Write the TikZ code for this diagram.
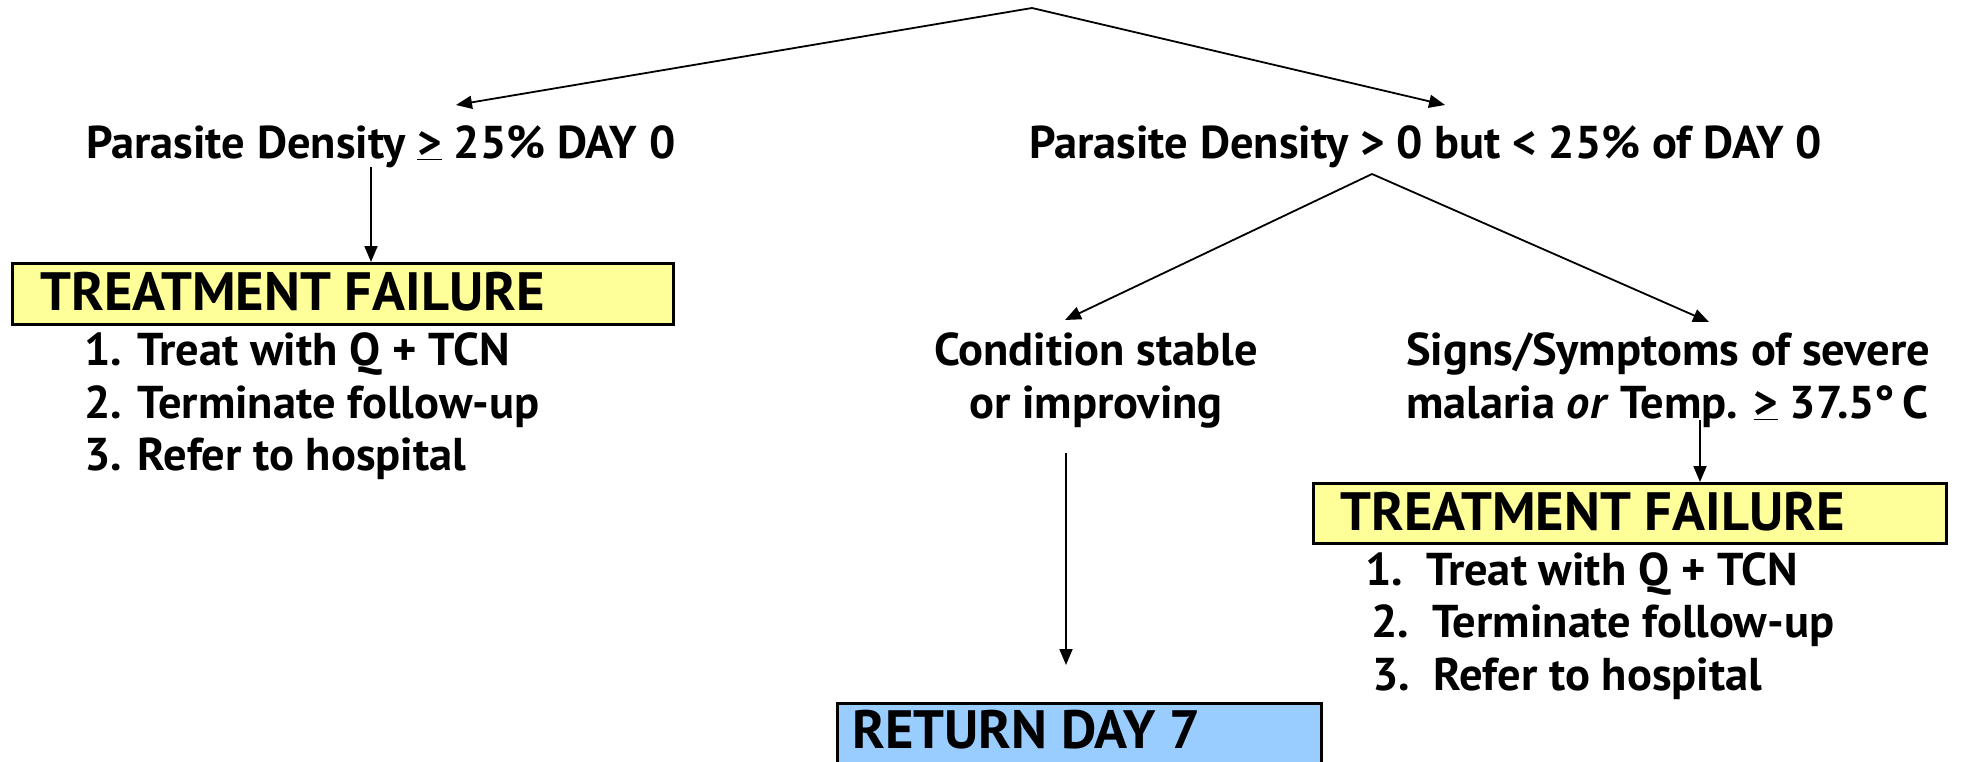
\documentclass[tikz,border=0pt]{standalone}
\usepackage{fontspec}
\setmainfont{PT Sans}[FakeStretch=1.01]
\usetikzlibrary{arrows.meta}
\definecolor{tfyellow}{HTML}{FFFF99}
\definecolor{retblue}{HTML}{99CCFF}
\begin{document}
\begin{tikzpicture}[x=1pt,y=-1pt,
  lbl/.style={inner sep=0pt, anchor=base west, font=\fontsize{46}{53}\selectfont\bfseries},
  ttl/.style={inner sep=0pt, anchor=base west, font=\fontsize{54}{60}\selectfont\bfseries},
  boxy/.style={draw=black, line width=2.5pt, fill=tfyellow, anchor=north west, inner sep=0pt},
  boxb/.style={draw=black, line width=2.5pt, fill=retblue, anchor=north west, inner sep=0pt},
  arr/.style={line width=1.8pt, -{Triangle[length=16pt,width=13pt]}}]
\clip (0,0) rectangle (1961,761);
\fill[white] (0,0) rectangle (1961,761);
% top split
\coordinate (top) at (1032,8);
\coordinate (ltip) at (456,105);
\coordinate (rtip) at (1445,105);
\draw[arr] (top) -- (ltip);
\draw[arr] (top) -- (rtip);
% labels
\node[lbl] (pdl) at (86,158) {Parasite Density \underline{>} 25\% DAY 0};
\node[lbl] (pdr) at (1029,158) {Parasite Density > 0 but < 25\% of DAY 0};
% left branch
\node[boxy, minimum width=661pt, minimum height=61pt] (tfl) at (11,262) {};
\node[ttl] (tflt) at (40,310) {TREATMENT FAILURE};
\coordinate (lfoot) at (371,167);
\draw[arr] (lfoot) -- (lfoot |- tfl.north);
\node[lbl] (l1) at (84,365) {1. Treat with Q + TCN};
\node[lbl] (l2) at (84,418) {2. Terminate follow-up};
\node[lbl] (l3) at (84,470) {3. Refer to hospital};
% right split
\coordinate (split) at (1372,174);
\coordinate (ctip) at (1065,320);
\coordinate (stip) at (1709,322);
\draw[arr] (split) -- (ctip);
\draw[arr] (split) -- (stip);
\node[lbl, anchor=base] (cs1) at (1096,365) {Condition stable};
\node[lbl, anchor=base] (cs2) at (1096,418) {or improving};
\node[lbl] (ss1) at (1406,365) {Signs/Symptoms of severe};
\node[lbl] (ss2) at (1406,418) {malaria \textit{or} Temp. \underline{>} 37.5°\,C};
% right treatment failure
\node[boxy, minimum width=633pt, minimum height=60pt] (tfr) at (1312,482) {};
\node[ttl] (tfrt) at (1340,530) {TREATMENT FAILURE};
\coordinate (sfoot) at (1700,420);
\draw[arr] (sfoot) -- (sfoot |- tfr.north);
\node[lbl] (r1) at (1365,585) {1.~~Treat with Q + TCN};
\node[lbl] (r2) at (1371,637) {2.~~Terminate follow-up};
\node[lbl] (r3) at (1372,690) {3.~~Refer to hospital};
% return day 7
\coordinate (cfoot) at (1066,453);
\coordinate (rettip) at (1066,665);
\draw[arr] (cfoot) -- (rettip);
\node[boxb, minimum width=484pt, minimum height=90pt] (ret) at (836,702) {};
\node[ttl] (rett) at (852,748) {RETURN DAY 7};
\end{tikzpicture}
\end{document}
